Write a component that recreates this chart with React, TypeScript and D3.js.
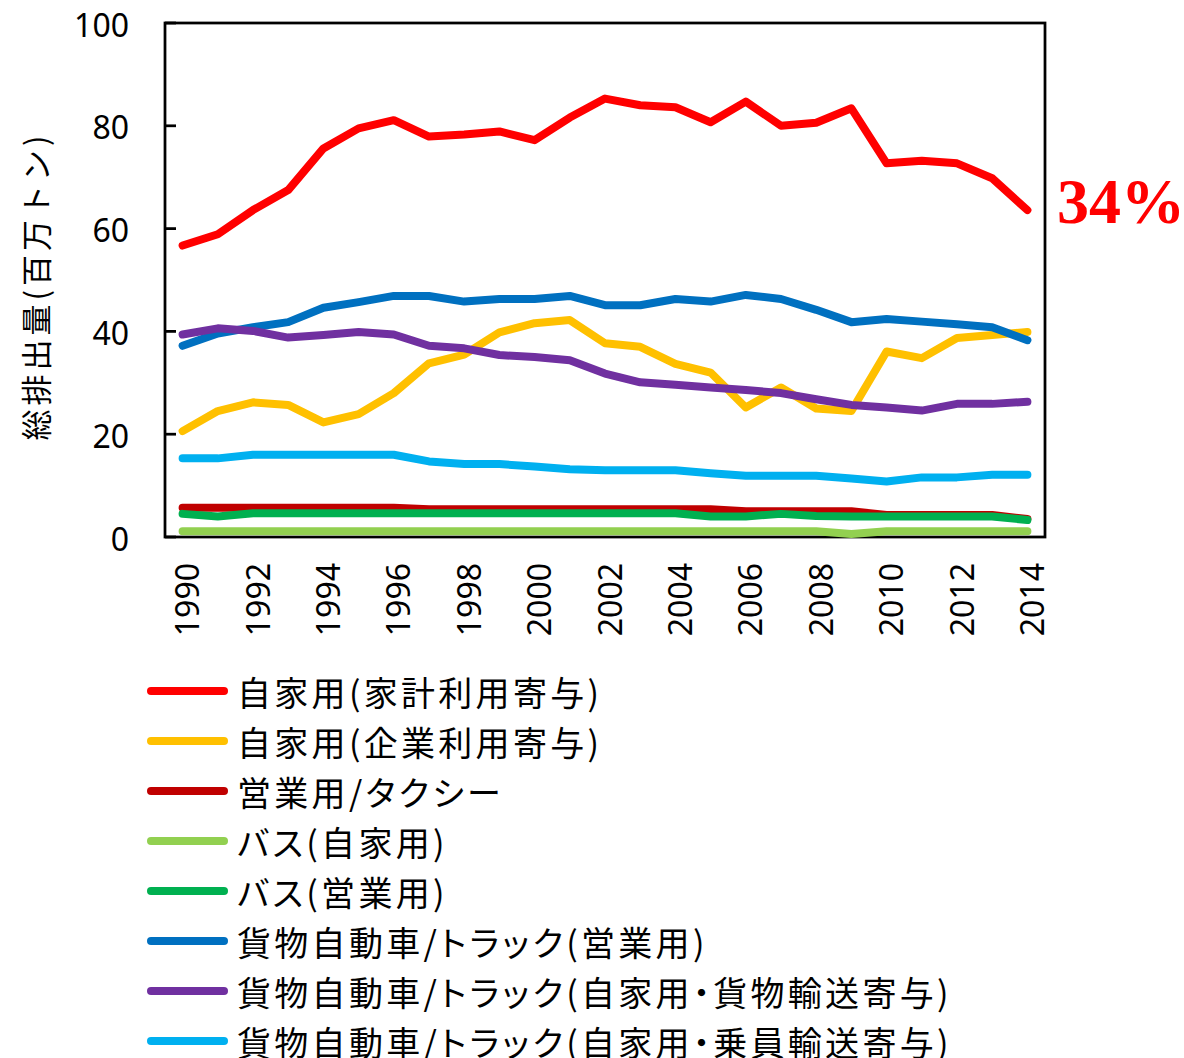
import React from "react";
import * as d3 from "d3";

// years on the category axis
const years = [
  1990, 1991, 1992, 1993, 1994, 1995, 1996, 1997, 1998, 1999, 2000, 2001, 2002,
  2003, 2004, 2005, 2006, 2007, 2008, 2009, 2010, 2011, 2012, 2013, 2014,
];

// 総排出量 (百万トン)
const household = [
  56.7, 58.9, 63.6, 67.5, 75.6, 79.5, 81.1, 77.9, 78.3, 78.9, 77.2, 81.6, 85.3,
  84.0, 83.6, 80.7, 84.7, 80.0, 80.6, 83.4, 72.7, 73.2, 72.7, 69.8, 63.6,
];
const business = [
  20.6, 24.5, 26.2, 25.7, 22.3, 23.9, 28.0, 33.8, 35.5, 39.8, 41.6, 42.2, 37.7,
  37.0, 33.7, 32.0, 25.2, 29.1, 25.0, 24.5, 36.1, 34.8, 38.7, 39.3, 39.9,
];
const taxi = [
  5.7, 5.7, 5.7, 5.7, 5.7, 5.7, 5.7, 5.4, 5.4, 5.4, 5.4, 5.4, 5.4, 5.4, 5.4,
  5.4, 5.0, 5.0, 5.0, 5.0, 4.3, 4.3, 4.3, 4.3, 3.5,
];
const busPrivate = [
  1.1, 1.1, 1.1, 1.1, 1.1, 1.1, 1.1, 1.1, 1.1, 1.1, 1.1, 1.1, 1.1, 1.1, 1.1,
  1.1, 1.1, 1.1, 1.1, 0.6, 1.1, 1.1, 1.1, 1.1, 1.1,
];
const busCommercial = [
  4.5, 4.0, 4.6, 4.6, 4.6, 4.6, 4.6, 4.6, 4.6, 4.6, 4.6, 4.6, 4.6, 4.6, 4.6,
  4.0, 4.0, 4.5, 4.1, 4.0, 4.0, 4.0, 4.0, 4.0, 3.3,
];
const truckCommercial = [
  37.2, 39.6, 40.8, 41.8, 44.6, 45.7, 46.9, 46.9, 45.8, 46.3, 46.3, 46.9, 45.1,
  45.1, 46.3, 45.8, 47.1, 46.3, 44.2, 41.8, 42.4, 41.9, 41.4, 40.8, 38.3,
];
const truckFreight = [
  39.4, 40.6, 40.1, 38.8, 39.3, 39.9, 39.4, 37.2, 36.7, 35.4, 35.0, 34.4, 31.8,
  30.1, 29.6, 29.1, 28.6, 28.0, 26.8, 25.7, 25.2, 24.6, 25.9, 25.9, 26.3,
];
const truckPassenger = [
  15.3, 15.3, 16.0, 16.0, 16.0, 16.0, 16.0, 14.7, 14.2, 14.2, 13.7, 13.2, 13.0,
  13.0, 13.0, 12.4, 11.9, 11.9, 11.9, 11.4, 10.8, 11.6, 11.6, 12.1, 12.1,
];

const seriesNames = [
  "自家用(家計利用寄与)",
  "自家用(企業利用寄与)",
  "営業用/タクシー",
  "バス(自家用)",
  "バス(営業用)",
  "貨物自動車/トラック(営業用)",
  "貨物自動車/トラック(自家用・貨物輸送寄与)",
  "貨物自動車/トラック(自家用・乗員輸送寄与)",
];
const seriesValues = [
  household,
  business,
  taxi,
  busPrivate,
  busCommercial,
  truckCommercial,
  truckFreight,
  truckPassenger,
];
const seriesColors = [
  "#FF0000",
  "#FFC000",
  "#C00000",
  "#92D050",
  "#00B050",
  "#0070C0",
  "#7030A0",
  "#00B0F0",
];

const yTitle = "総排出量(百万トン)";
const annotation = "34%";

const W = 1184;
const H = 1058;
const plot = { left: 165, right: 1045, top: 23, bottom: 537 };

const jpFont = "'Noto Sans CJK JP', 'Noto Sans', sans-serif";
const numFont = "'Noto Sans', 'DejaVu Sans', sans-serif";

export default function App() {
  const x = d3
    .scaleBand<number>()
    .domain(years)
    .range([plot.left, plot.right])
    .padding(0);
  const cx = (yr: number) => (x(yr) as number) + x.bandwidth() / 2;
  const y = d3.scaleLinear().domain([0, 100]).range([plot.bottom, plot.top]);

  const line = d3
    .line<number>()
    .x((_, i) => cx(years[i]))
    .y((d) => y(d));

  return (
    <svg
      width={W}
      height={H}
      style={{ position: "absolute", left: 0, top: 0, background: "#fff" }}
    >
      {/* plot frame */}
      <rect
        x={plot.left}
        y={plot.top}
        width={plot.right - plot.left}
        height={plot.bottom - plot.top}
        fill="none"
        stroke="#000"
        strokeWidth={2.75}
      />

      {/* y ticks, pointing inward */}
      {y.ticks(5).map((t) => (
        <g key={t}>
          <line
            x1={plot.left}
            x2={plot.left + 11}
            y1={y(t)}
            y2={y(t)}
            stroke="#000"
            strokeWidth={2.75}
          />
          <text
            x={129}
            y={y(t) + 1}
            textAnchor="end"
            dominantBaseline="central"
            fontFamily={numFont}
            fontSize={32}
            fill="#000"
          >
            {t}
          </text>
        </g>
      ))}

      {/* x labels, every other year */}
      {years
        .filter((_, i) => i % 2 === 0)
        .map((yr) => (
          <text
            key={yr}
            transform={`translate(${cx(yr) + 4},563) rotate(-90)`}
            textAnchor="end"
            dominantBaseline="central"
            fontFamily={numFont}
            fontSize={32}
            fill="#000"
          >
            {yr}
          </text>
        ))}

      {/* y title */}
      <text
        transform="translate(34,286) rotate(-90)"
        textAnchor="middle"
        dominantBaseline="central"
        fontFamily={jpFont}
        fontSize={31}
        letterSpacing={4}
        fill="#000"
      >
        {yTitle}
      </text>

      {/* series */}
      {seriesValues.map((vals, i) => (
        <path
          key={seriesNames[i]}
          d={line(vals) as string}
          fill="none"
          stroke={seriesColors[i]}
          strokeWidth={8}
          strokeLinecap="round"
          strokeLinejoin="round"
        />
      ))}

      <text
        x={1057}
        y={223}
        fontFamily="'Liberation Serif', 'Times New Roman', serif"
        fontWeight="bold"
        fontSize={64}
        fill="#FF0000"
      >
        {annotation}
      </text>

      {/* legend */}
      {seriesNames.map((name, i) => {
        const ly = 691 + i * 50;
        return (
          <g key={name}>
            <line
              x1={151}
              x2={224}
              y1={ly}
              y2={ly}
              stroke={seriesColors[i]}
              strokeWidth={8}
              strokeLinecap="round"
            />
            <text
              x={237}
              y={ly}
              dominantBaseline="central"
              fontFamily={jpFont}
              fontSize={34}
              letterSpacing={3.3}
              style={{ fontFeatureSettings: '"palt"' }}
              fill="#000"
            >
              {name}
            </text>
          </g>
        );
      })}
    </svg>
  );
}
